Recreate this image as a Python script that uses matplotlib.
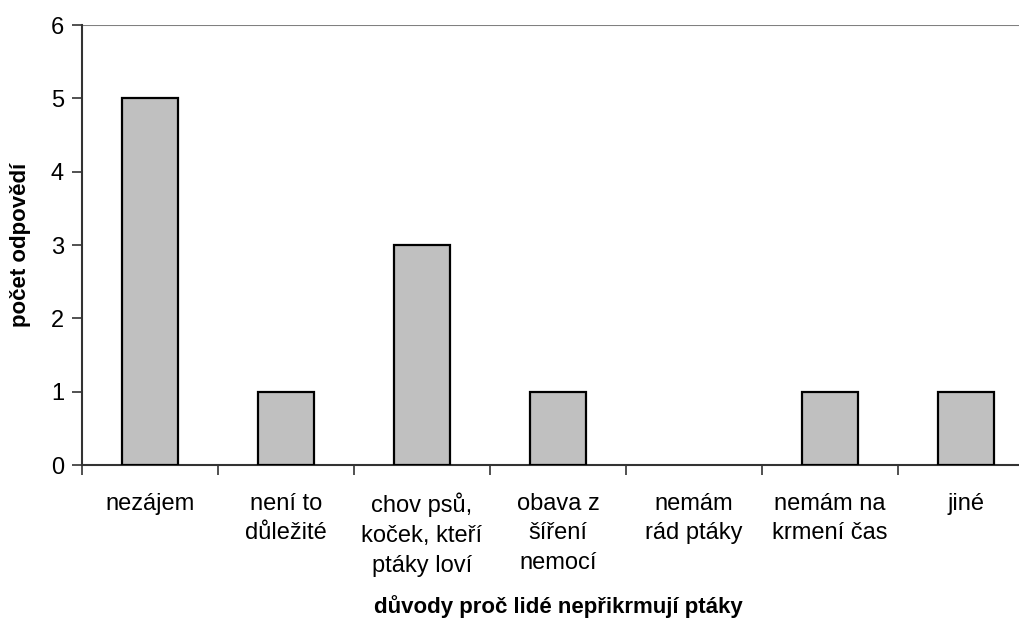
import matplotlib
matplotlib.use('agg')
import matplotlib.pyplot as plt
import numpy as np

plt.rcParams['font.family'] = ['Liberation Sans', 'DejaVu Sans']

# survey answers: why people do not feed birds
reasons = ['nezájem', 'není to\ndůležité', 'chov psů,\nkoček, kteří\nptáky loví',
           'obava z\nšíření\nnemocí', 'nemám\nrád ptáky', 'nemám na\nkrmení čas', 'jiné']
answers = [5, 1, 3, 1, 0, 1, 1]
y_ticks = [0, 1, 2, 3, 4, 5, 6]

fig = plt.figure(figsize=(10.2, 6.24), dpi=100)
ax = fig.add_axes([82 / 1020, 1 - 465 / 624, 952 / 1020, 440 / 624])

x = np.arange(len(reasons))
edge_w = [1.6 if v else 0 for v in answers]
ax.bar(x, answers, width=0.41, color='#c0c0c0', edgecolor='black', linewidth=edge_w, zorder=3)

ax.set_xlim(-0.5, len(reasons) - 0.5)
ax.set_ylim(0, 6)
ax.set_yticks(y_ticks)
ax.axhline(6, color='#808080', linewidth=1.5, zorder=1)

# category labels centred, tick marks between categories
ax.set_xticks(x)
ax.set_xticklabels(reasons, fontsize=17, linespacing=1.45, va='top')
ax.set_xticks(np.arange(len(reasons) + 1) - 0.5, minor=True)
ax.tick_params(axis='x', which='major', length=0, pad=20)
ax.tick_params(axis='x', which='minor', length=7, width=1.2, color='#333333', direction='out')
ax.tick_params(axis='y', length=7, width=1.2, color='#333333', labelsize=17, pad=6)

for s in ['top', 'right']:
    ax.spines[s].set_visible(False)
for s in ['left', 'bottom']:
    ax.spines[s].set_color('#333333')
    ax.spines[s].set_linewidth(1.5)

ax.set_ylabel('počet odpovědí', fontsize=16, fontweight='bold', labelpad=14)
ax.set_xlabel('důvody proč lidé nepřikrmují ptáky', fontsize=16, fontweight='bold', labelpad=13)

fig.savefig('out.png', dpi=100)
